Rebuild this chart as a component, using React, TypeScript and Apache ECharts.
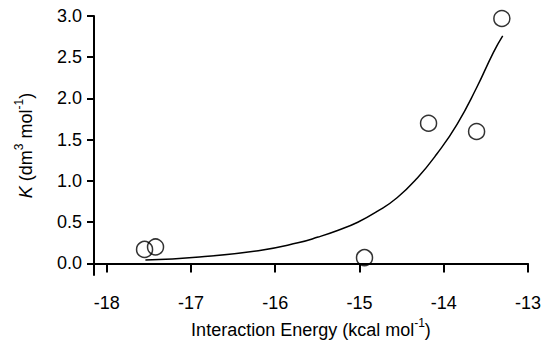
import React, { useEffect, useRef } from "react";
import * as echarts from "echarts";

// Measured points: interaction energy (kcal/mol) vs K (dm3/mol)
const energy = [-17.55, -17.42, -14.94, -14.18, -13.61, -13.31];
const kValues = [0.17, 0.2, 0.07, 1.7, 1.6, 2.97];

// Fitted curve
const fitEnergy = [-17.54, -16.9, -16.2, -15.73, -15.49, -15.26, -15.02, -14.79, -14.55, -14.31, -14.08, -13.84, -13.61, -13.41, -13.3];
const fitK = [0.041, 0.078, 0.155, 0.25, 0.32, 0.4, 0.5, 0.63, 0.8, 1.04, 1.33, 1.69, 2.13, 2.56, 2.76];

const xTicks = [-18, -17, -16, -15, -14, -13];
const yTicks = [0, 0.5, 1, 1.5, 2, 2.5, 3];

const FONT = "'Liberation Sans', Arial, Helvetica, sans-serif";

export default function App() {
  const ref = useRef<HTMLDivElement>(null);
  useEffect(() => {
    if (!ref.current) return;
    const chart = echarts.init(ref.current, undefined, { renderer: "svg" });
    const axisLine = { show: true, lineStyle: { color: "#000", width: 2 } };
    chart.setOption({
      animation: false,
      backgroundColor: "#fff",
      grid: { left: 94, right: 12, top: 16, bottom: 61, containLabel: false },
      xAxis: {
        type: "value",
        min: -18.15,
        max: -13,
        axisLine,
        axisTick: { show: true, customValues: xTicks, length: 9, inside: false, lineStyle: { color: "#000", width: 2 } },
        axisLabel: {
          customValues: xTicks,
          formatter: (v: number) => String(v),
          color: "#000",
          fontSize: 18,
          fontFamily: FONT,
          margin: 19,
          showMinLabel: true,
          showMaxLabel: true,
        },
        splitLine: { show: false },
        name: "Interaction Energy (kcal mol{sup|-1})",
        nameLocation: "middle",
        nameGap: 42,
        nameTextStyle: {
          color: "#000",
          fontSize: 18,
          fontFamily: FONT,
          rich: {
            sup: { fontSize: 12, fontFamily: FONT, color: "#000", padding: [0, 0, 14, 0] },
          },
        },
      },
      yAxis: {
        type: "value",
        min: -0.14,
        max: 3,
        axisLine,
        axisTick: { show: true, customValues: yTicks, length: 7, inside: false, lineStyle: { color: "#000", width: 2 } },
        axisLabel: {
          customValues: yTicks,
          formatter: (v: number) => v.toFixed(1),
          color: "#000",
          fontSize: 18,
          fontFamily: FONT,
          margin: 12,
          showMinLabel: true,
          showMaxLabel: true,
        },
        splitLine: { show: false },
        name: "{i|K} (dm{sup|3} mol{sup|-1})",
        nameLocation: "middle",
        nameRotate: 90,
        nameGap: 55,
        nameTextStyle: {
          color: "#000",
          fontSize: 18,
          fontFamily: FONT,
          rich: {
            i: { fontStyle: "italic", fontSize: 18, fontFamily: FONT, color: "#000" },
            sup: { fontSize: 12, fontFamily: FONT, color: "#000", padding: [0, 0, 14, 0] },
          },
        },
      },
      series: [
        {
          type: "line",
          data: fitEnergy.map((x, i) => [x, fitK[i]]),
          showSymbol: false,
          smooth: 0.5,
          lineStyle: { color: "#000", width: 1.5 },
          z: 2,
        },
        {
          type: "scatter",
          data: energy.map((x, i) => [x, kValues[i]]),
          symbol: "circle",
          symbolSize: 16,
          itemStyle: { color: "rgba(255,255,255,0)", borderColor: "#000", borderWidth: 1.5 },
          z: 3,
        },
      ],
    });
    return () => chart.dispose();
  }, []);
  return (
    <div
      ref={ref}
      style={{ position: "fixed", left: 0, top: 0, width: 544, height: 344 }}
    />
  );
}
